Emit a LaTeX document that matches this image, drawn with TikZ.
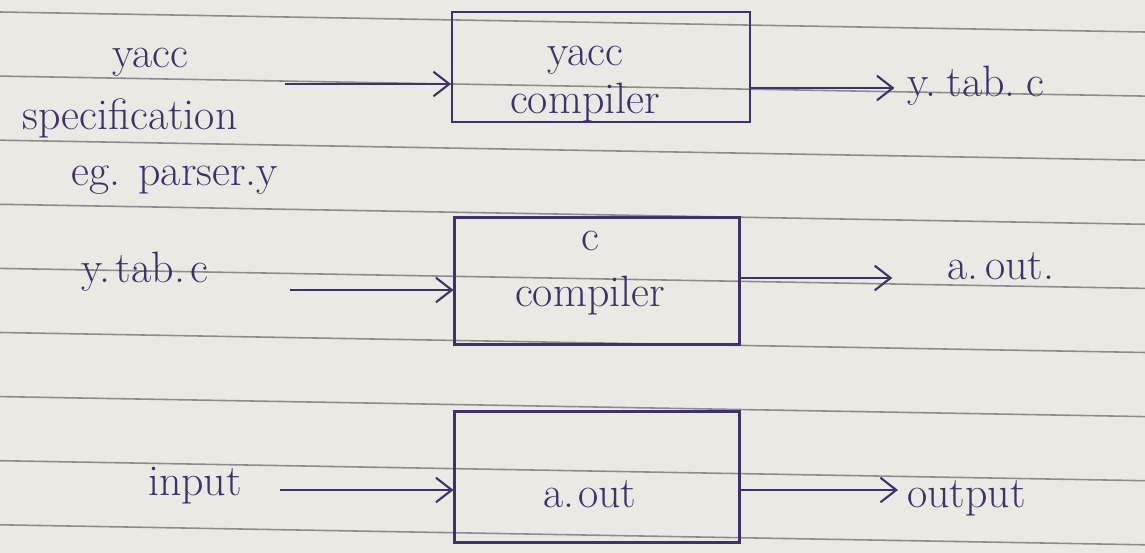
\documentclass[tikz,border=0pt]{standalone}
\usepackage{fontspec}
\usetikzlibrary{positioning,arrows.meta}
\definecolor{paper}{HTML}{ECE9E4}
\definecolor{ink}{HTML}{3A336E}
\definecolor{ruling}{HTML}{8E8C8A}

\begin{document}
\begin{tikzpicture}
  [
      x=0.02cm, y=-0.02cm,
      hand/.style={text=ink, font=\fontsize{25}{30}\selectfont, inner sep=1pt, align=center},
      box/.style={rectangle, draw=ink, line width=1.2pt, minimum width=#1},
      arr/.style={draw=ink, line width=1.2pt, -{Straight Barb[length=9pt,width=14pt]}},
      rule/.style={draw=ruling, line width=0.9pt},
    ]

    % paper and ruled lines
    \fill[paper] (0,0) rectangle (1145,553);
    \useasboundingbox (0,0) rectangle (1145,553);
    \foreach \k in {0,...,8}
      \draw[rule] (0,{12+64.1*\k}) -- (1145,{32+64.1*\k});

    % row 1
    \node[hand] (spec1) at (150,62) {yacc};
    \node[hand] (spec2) at (130,118) {specification};
    \node[hand] (spec3) at (175,180) {eg. parser.y};
    \node[box=5.96cm, minimum height=2.2cm] (yaccc) at (601,67) {};
    \node[hand] (yaccct) at (585,84) {yacc\\[-3pt]compiler};
    \node[hand, anchor=west] (ytabout) at (905,86) {y.\kern6pt tab.\kern6pt c};
    \coordinate (in1) at (285,84);
    \draw[arr] (in1) -- (yaccc.west |- in1);
    \coordinate (out1) at (yaccc.east |- 0,88);
    \draw[arr] (out1) -- ([xshift=-6pt]ytabout.west |- out1);

    % row 2
    \node[hand] (ytabin) at (145,272) {y.\kern3pt tab.\kern3pt c};
    \node[box=5.7cm, minimum height=2.54cm] (cc) at (597,281) {};
    \node[hand] (ccct) at (590,273) {c\\[2pt]compiler};
    \node[hand, anchor=west] (aout) at (945,266) {a.\kern4pt out.};
    \coordinate (in2) at (290,290);
    \draw[arr] (in2) -- (cc.west |- in2);
    \coordinate (out2) at (cc.east |- 0,278);
    \draw[arr] (out2) -- ([xshift=-30pt]aout.west |- out2);

    % row 3
    \node[hand] (inp) at (195,486) {input};
    \node[box=5.7cm, minimum height=2.62cm] (aoutc) at (597,477) {};
    \node[hand] (aoutct) at (590,494) {a.\kern2pt out};
    \node[hand, anchor=west] (outp) at (905,498) {output};
    \coordinate (in3) at (280,490);
    \draw[arr] (in3) -- (aoutc.west |- in3);
    \coordinate (out3) at (aoutc.east |- 0,490);
    \draw[arr] (out3) -- ([xshift=-4pt]outp.west |- out3);

  \end{tikzpicture}
\end{document}
